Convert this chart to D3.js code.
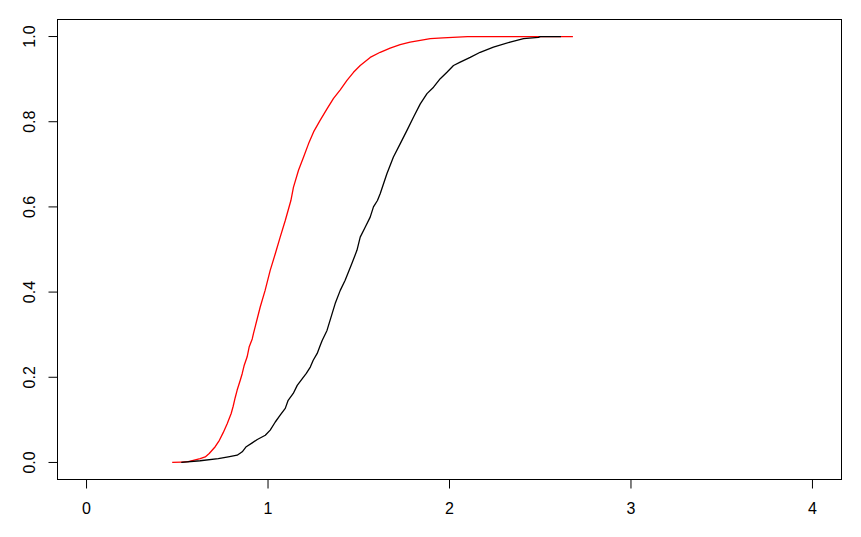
<!DOCTYPE html>
<html>
<head>
<meta charset="utf-8">
<script src="https://cdn.jsdelivr.net/npm/d3@7/dist/d3.min.js"></script>
<style>
  html, body { margin: 0; padding: 0; background: #ffffff; }
  svg { display: block; }
</style>
</head>
<body>
<svg id="chart" width="861" height="537"></svg>
<script>
// ---- data ----
const xTicks = [0, 1, 2, 3, 4];
const xTickLabels = ["0", "1", "2", "3", "4"];
const yTicks = [0, 0.2, 0.4, 0.6, 0.8, 1.0];
const yTickLabels = ["0.0", "0.2", "0.4", "0.6", "0.8", "1.0"];

// red ECDF (x, cumulative proportion)
const redX = [0.472,0.522,0.560,0.588,0.626,0.654,0.676,0.709,0.732,0.753,0.775,0.797,0.808,0.819,0.830,0.847,0.858,0.868,0.885,0.896,0.913,0.920,0.957,0.984,1.012,1.040,1.067,1.095,1.126,1.140,1.168,1.196,1.223,1.251,1.287,1.325,1.361,1.398,1.435,1.471,1.508,1.563,1.618,1.673,1.728,1.783,1.839,1.894,1.964,2.099,2.680];
const redY = [0,0.001,0.002,0.005,0.009,0.013,0.021,0.037,0.052,0.070,0.091,0.115,0.132,0.152,0.170,0.193,0.209,0.227,0.248,0.271,0.290,0.303,0.365,0.404,0.451,0.490,0.529,0.568,0.615,0.646,0.686,0.717,0.748,0.776,0.803,0.830,0.855,0.875,0.897,0.916,0.932,0.951,0.963,0.973,0.981,0.987,0.991,0.995,0.997,1.000,1.000];

// black ECDF (x, cumulative proportion)
const blackX = [0.522,0.626,0.726,0.781,0.830,0.858,0.880,0.913,0.941,0.985,1.012,1.040,1.067,1.095,1.111,1.139,1.161,1.189,1.211,1.233,1.249,1.271,1.288,1.299,1.325,1.370,1.398,1.425,1.462,1.490,1.508,1.536,1.563,1.581,1.603,1.618,1.655,1.691,1.728,1.765,1.802,1.839,1.876,1.912,1.949,1.986,2.022,2.059,2.114,2.169,2.242,2.334,2.408,2.490,2.500,2.614];
const blackY = [0,0.004,0.009,0.013,0.017,0.025,0.037,0.046,0.054,0.064,0.076,0.095,0.111,0.127,0.146,0.162,0.181,0.197,0.209,0.224,0.240,0.256,0.275,0.287,0.310,0.373,0.404,0.428,0.467,0.498,0.529,0.553,0.576,0.600,0.615,0.631,0.678,0.717,0.748,0.779,0.811,0.842,0.866,0.881,0.901,0.916,0.932,0.940,0.951,0.963,0.975,0.987,0.995,0.998,1.000,1.000];

// ---- layout ----
const svg = d3.select("#chart");
const plotLeft = 57.5, plotRight = 841.5, plotTop = 19.5, plotBottom = 479.5;
const xLim = [0, 4], yLim = [0, 1];
const xPad = (xLim[1] - xLim[0]) * 0.04, yPad = (yLim[1] - yLim[0]) * 0.04;

const x = d3.scaleLinear().domain([xLim[0] - xPad, xLim[1] + xPad]).range([plotLeft, plotRight]);
const y = d3.scaleLinear().domain([yLim[0] - yPad, yLim[1] + yPad]).range([plotBottom, plotTop]);

const fontFamily = "'Liberation Sans', Arial, sans-serif";

// series
const series = [
  { xs: redX, ys: redY, color: "#ff0000" },
  { xs: blackX, ys: blackY, color: "#000000" }
];
const line = d3.line().x(d => x(d[0])).y(d => y(d[1]));
series.forEach(s => {
  const pts = s.xs.map((v, i) => [v, s.ys[i]]);
  svg.append("path")
    .attr("d", line(pts))
    .attr("fill", "none")
    .attr("stroke", s.color)
    .attr("stroke-width", 1.3)
    .attr("stroke-linejoin", "round");
});

// box
svg.append("rect")
  .attr("x", plotLeft).attr("y", plotTop)
  .attr("width", plotRight - plotLeft).attr("height", plotBottom - plotTop)
  .attr("fill", "none").attr("stroke", "#000").attr("stroke-width", 1);

// x axis
const xAxis = d3.axisBottom(x).tickValues(xTicks)
  .tickFormat((d, i) => xTickLabels[i]).tickSize(9).tickSizeOuter(0).offset(0);
const gx = svg.append("g").attr("transform", `translate(0,${plotBottom})`).call(xAxis);
gx.select(".domain").remove();
gx.selectAll(".tick line").attr("stroke", "#000");
gx.selectAll(".tick text")
  .attr("y", 34.5).attr("dy", null)
  .attr("fill", "#000")
  .style("font-family", fontFamily).style("font-size", "16px");

// y axis
const yAxis = d3.axisLeft(y).tickValues(yTicks)
  .tickFormat((d, i) => yTickLabels[i]).tickSize(9).tickSizeOuter(0).offset(0);
const gy = svg.append("g").attr("transform", `translate(${plotLeft},0)`).call(yAxis);
gy.select(".domain").remove();
gy.selectAll(".tick line").attr("stroke", "#000");
gy.selectAll(".tick text")
  .attr("x", null).attr("dy", null)
  .attr("transform", "translate(-22.5,0) rotate(-90)")
  .attr("text-anchor", "middle")
  .attr("fill", "#000")
  .style("font-family", fontFamily).style("font-size", "16px");
</script>
</body>
</html>
